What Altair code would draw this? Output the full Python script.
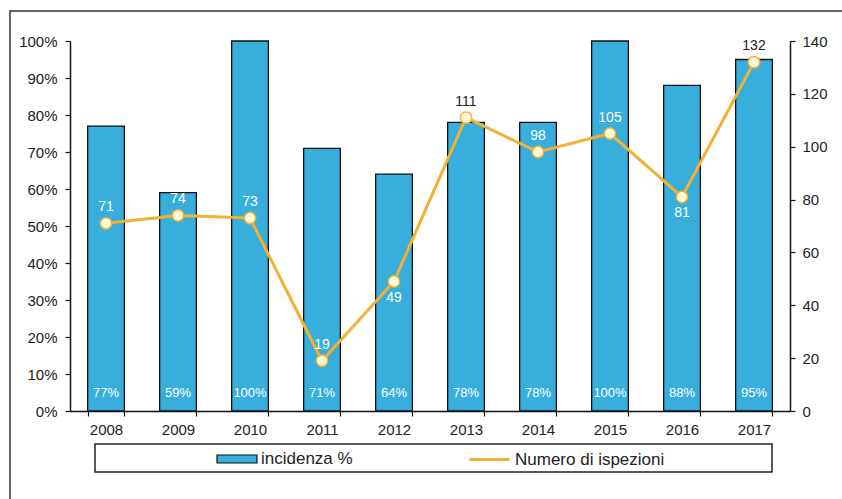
import altair as alt
import pandas as pd

# Anni, incidenza percentuale (barre) e numero di ispezioni (linea)
years = ["2008", "2009", "2010", "2011", "2012", "2013", "2014", "2015", "2016", "2017"]
incidenza = [0.77, 0.59, 1.00, 0.71, 0.64, 0.78, 0.78, 1.00, 0.88, 0.95]
ispezioni = [71, 74, 73, 19, 49, 111, 98, 105, 81, 132]
# anni in cui l'etichetta della linea sta sotto il punto
label_below = ["2012", "2016"]
series_names = ["incidenza %", "Numero di ispezioni"]

pct_ticks = [0, 0.1, 0.2, 0.3, 0.4, 0.5, 0.6, 0.7, 0.8, 0.9, 1.0]
count_ticks = [0, 20, 40, 60, 80, 100, 120, 140]
COUNT_MAX = 140

BAR_COLOR = "#37AEDB"
LINE_COLOR = "#F2B035"
POINT_FILL = "#FFF7D6"
TEXT = "#222222"
FONT = "Liberation Sans"

df = pd.DataFrame({"year": years, "pct": incidenza, "count": ispezioni})
df["zero"] = 0.0
df["bar_series"] = series_names[0]
df["line_series"] = series_names[1]
df["pos"] = ["below" if y in label_below else "above" for y in years]
# etichetta bianca quando cade dentro la barra, scura quando è sopra
df["inside"] = [
    bool((p == "below") or (c + 6 < v * COUNT_MAX))
    for p, c, v in zip(df["pos"], df["count"], df["pct"])
]

W, H = 720, 370

x_enc = alt.X(
    "year:N",
    scale=alt.Scale(paddingInner=0.49, paddingOuter=0.245),
    axis=alt.Axis(
        title=None, labelAngle=0, tickBand="extent", labelFontSize=15,
        labelColor=TEXT, domainColor="#111", tickColor="#111", tickSize=5,
        labelPadding=6, domainWidth=1.5, tickWidth=1.2,
    ),
)

# tickCount >= numero di valori, così Vega non dimezza i tick
pct_axis = alt.Axis(
    title=None, orient="left", format=".0%", values=pct_ticks,
    tickCount=len(pct_ticks) + 1, labelOverlap=False, labelFontSize=15,
    labelColor=TEXT, domainColor="#111", tickColor="#111", tickSize=5,
    labelPadding=8, grid=False, domainWidth=1.5, tickWidth=1.2,
)
pct_scale = alt.Scale(domain=[0, 1])

base = alt.Chart(df)

frame = alt.Chart(pd.DataFrame({"k": [0]})).mark_rect(
    fillOpacity=0, stroke="#333", strokeWidth=1.5
).encode(x=alt.value(-60), x2=alt.value(800), y=alt.value(-30), y2=alt.value(520))

legend_box = alt.Chart(pd.DataFrame({"k": [0]})).mark_rect(
    fillOpacity=0, stroke="#222", strokeWidth=1.5
).encode(x=alt.value(25), x2=alt.value(702), y=alt.value(403), y2=alt.value(431))

bars = base.mark_bar(stroke="#111", strokeWidth=1.3).encode(
    x=x_enc,
    y=alt.Y("pct:Q", scale=pct_scale, axis=pct_axis),
    fill=alt.Fill(
        "bar_series:N",
        scale=alt.Scale(domain=[series_names[0]], range=[BAR_COLOR]),
        legend=alt.Legend(
            title=None, orient="none", legendX=146, legendY=397,
            symbolType="M-1,-0.2L1,-0.2L1,0.2L-1,0.2Z", symbolSize=1600,
            symbolStrokeColor="#111", symbolStrokeWidth=1.2, symbolOpacity=1,
            labelFontSize=17, labelColor=TEXT, labelFont=FONT, labelOffset=3,
        ),
    ),
)

# percentuale scritta alla base di ogni barra
bar_labels = base.mark_text(
    color="white", fontSize=13, dy=-18, baseline="middle", font=FONT
).encode(
    x=x_enc,
    y=alt.Y("zero:Q", scale=pct_scale, axis=pct_axis),
    text=alt.Text("pct:Q", format=".0%"),
)

left = alt.layer(frame, legend_box, bars, bar_labels)

y_count = alt.Y(
    "count:Q",
    scale=alt.Scale(domain=[0, COUNT_MAX]),
    axis=alt.Axis(
        title=None, orient="right", values=count_ticks,
        tickCount=len(count_ticks) + 1, labelOverlap=False,
        labelFontSize=15, labelColor=TEXT, domainColor="#111",
        tickColor="#111", tickSize=5, labelPadding=7, grid=False,
        domainWidth=1.5, tickWidth=1.2,
    ),
)

line = base.mark_line(strokeWidth=3).encode(
    x=x_enc,
    y=y_count,
    stroke=alt.Stroke(
        "line_series:N",
        scale=alt.Scale(domain=[series_names[1]], range=[LINE_COLOR]),
        legend=alt.Legend(
            title=None, orient="none", legendX=398, legendY=397,
            symbolType="stroke", symbolSize=1600, symbolStrokeWidth=3,
            labelFontSize=17, labelColor=TEXT, labelFont=FONT, labelOffset=4,
        ),
    ),
)

points = base.mark_point(
    filled=True, fill=POINT_FILL, stroke=LINE_COLOR, strokeWidth=1.5,
    size=130, opacity=1, shape="circle",
).encode(x=x_enc, y=y_count)

label_color = alt.condition(alt.datum.inside, alt.value("white"), alt.value(TEXT))

labels_above = base.transform_filter(alt.datum.pos == "above").mark_text(
    fontSize=14, dy=-16, baseline="middle", font=FONT
).encode(x=x_enc, y=y_count, text="count:Q", color=label_color)

labels_below = base.transform_filter(alt.datum.pos == "below").mark_text(
    fontSize=14, dy=16, baseline="middle", font=FONT
).encode(x=x_enc, y=y_count, text="count:Q", color=label_color)

right = alt.layer(line, points, labels_above, labels_below)

chart = (
    alt.layer(left, right)
    .resolve_scale(y="independent")
    .properties(
        width=W, height=H,
        autosize=alt.AutoSizeParams(type="none"),
        padding={"left": 70, "top": 41, "right": 52, "bottom": 88},
        background="white",
    )
    .configure(font=FONT)
    .configure_view(strokeWidth=0)
)

chart.save("out.html", embed_options={"renderer": "svg", "actions": False})
